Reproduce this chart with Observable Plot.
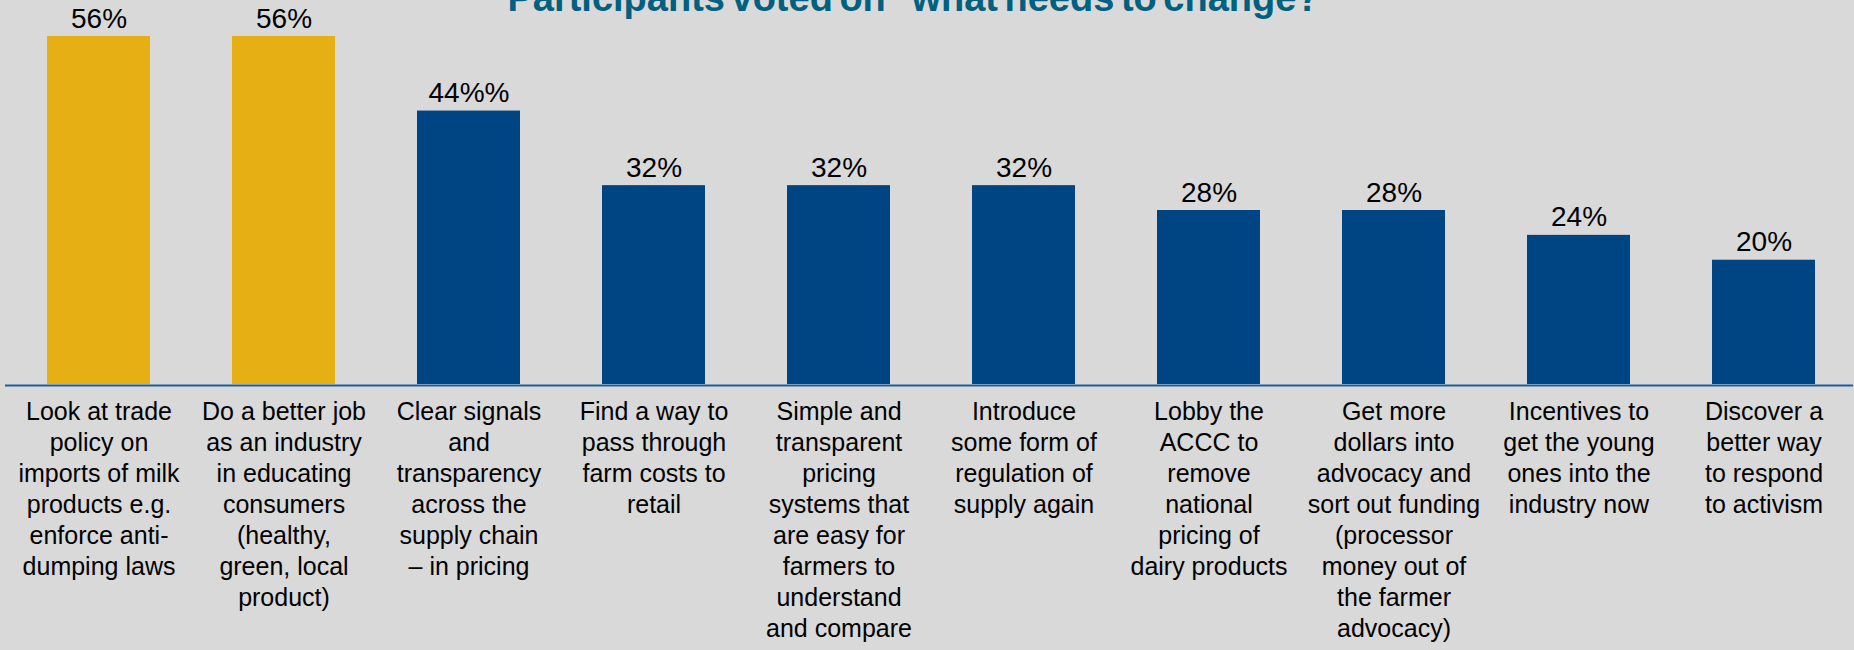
<!DOCTYPE html>
<html>
<head>
<meta charset="utf-8">
<script src="https://cdn.jsdelivr.net/npm/d3@7"></script>
<script src="https://cdn.jsdelivr.net/npm/@observablehq/plot@0.6"></script>
<style>
  html, body { margin: 0; padding: 0; background: #d9d9d9; overflow: hidden; }
  #wrap { position: relative; width: 1854px; height: 650px; }
  #title {
    position: absolute; top: -21px; left: -4px; width: 1854px;
    text-align: center; font: bold 38px "Liberation Sans", Arial, sans-serif;
    line-height: 38px; color: #00607f; word-spacing: -4px; white-space: nowrap;
  }
  #chart { position: absolute; top: 0; left: 0; }
</style>
</head>
<body>
<div id="wrap">
  <div id="title">Participants voted on “what needs to change?”</div>
  <div id="chart"></div>
</div>
<script>
const categories = [
  "Look at trade\npolicy on\nimports of milk\nproducts e.g.\nenforce anti-\ndumping laws",
  "Do a better job\nas an industry\nin educating\nconsumers\n(healthy,\ngreen, local\nproduct)",
  "Clear signals\nand\ntransparency\nacross the\nsupply chain\n– in pricing",
  "Find a way to\npass through\nfarm costs to\nretail",
  "Simple and\ntransparent\npricing\nsystems that\nare easy for\nfarmers to\nunderstand\nand compare",
  "Introduce\nsome form of\nregulation of\nsupply again",
  "Lobby the\nACCC to\nremove\nnational\npricing of\ndairy products",
  "Get more\ndollars into\nadvocacy and\nsort out funding\n(processor\nmoney out of\nthe farmer\nadvocacy)",
  "Incentives to\nget the young\nones into the\nindustry now",
  "Discover a\nbetter way\nto respond\nto activism"
];
const values = [56, 56, 44, 32, 32, 32, 28, 28, 24, 20];
const valueLabels = ["56%", "56%", "44%%", "32%", "32%", "32%", "28%", "28%", "24%", "20%"];
const groups = ["top", "top", "other", "other", "other", "other", "other", "other", "other", "other"];

const data = categories.map((c, i) => ({category: c, value: values[i], label: valueLabels[i], group: groups[i]}));

const chart = Plot.plot({
  width: 1854,
  height: 650,
  marginLeft: 9,
  marginRight: 1,
  marginTop: 36,
  marginBottom: 266,
  style: {background: "transparent", fontFamily: "'Liberation Sans', Arial, sans-serif", color: "#000"},
  x: {domain: categories, paddingInner: 0.444, paddingOuter: 0.2, label: null},
  y: {domain: [0, 56], axis: null},
  color: {domain: ["top", "other"], range: ["#e6af14", "#004583"]},
  marks: [
    Plot.barY(data, {x: "category", y: "value", fill: "group"}),
    Plot.ruleY([0], {stroke: "#1f5e9e", strokeWidth: 2.2, dy: 1, insetLeft: -4}),
    Plot.text(data, {x: "category", y: "value", text: "label", fontSize: 28, lineAnchor: "bottom", dy: -9, fill: "#000"}),
    Plot.axisX({tickSize: 0, tickPadding: 13, fontSize: 25, lineHeight: 1.24, label: null, fill: "#000"})
  ]
});
document.getElementById("chart").appendChild(chart);
</script>
</body>
</html>
